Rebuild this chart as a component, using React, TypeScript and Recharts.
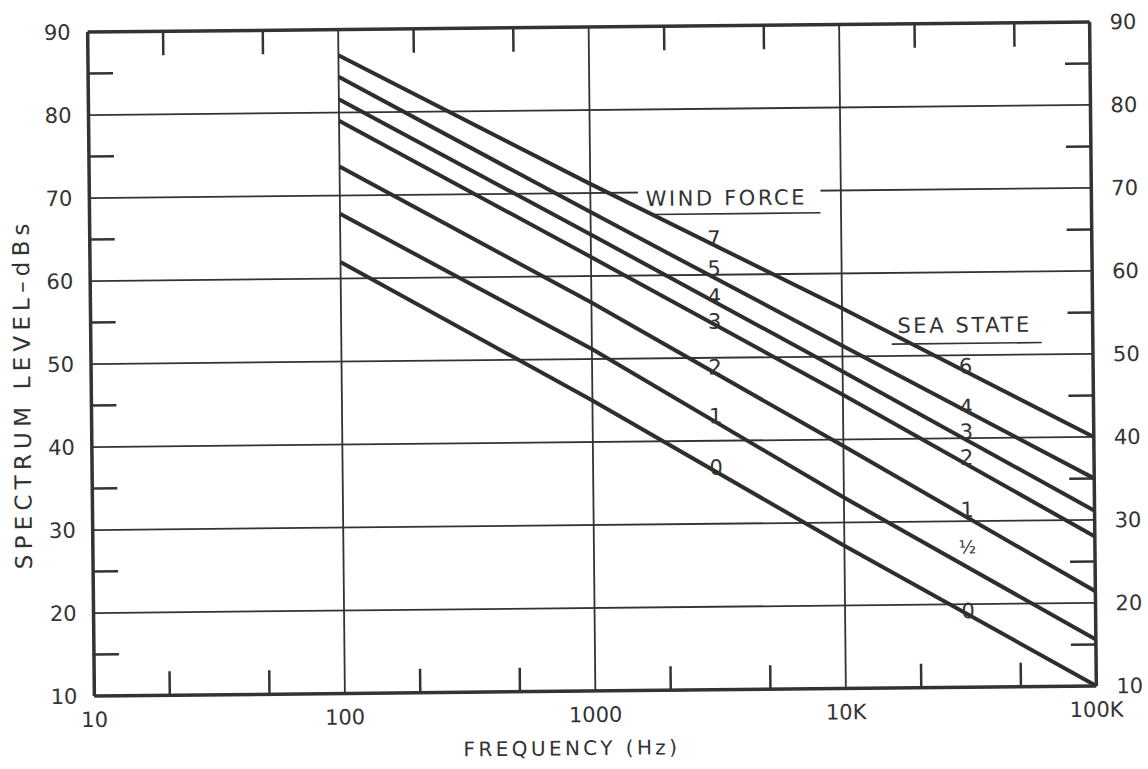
import { CartesianGrid, Line, LineChart, ReferenceArea, ReferenceDot, XAxis, YAxis } from "recharts";

// frequency points (Hz) where the curves were read
const freqs = [100, 1000, 10000, 100000];

// spectrum level (dB) per curve, labelled "wind force / sea state"
const wind7 = [86.9, 71.1, 55.8, 40.0];
const wind5 = [84.3, 67.7, 51.3, 35.0];
const wind4 = [81.6, 65.0, 48.2, 31.1];
const wind3 = [79.0, 62.3, 45.4, 28.0];
const wind2 = [73.5, 56.8, 39.2, 21.4];
const wind1 = [67.8, 51.2, 33.0, 15.6];
const wind0 = [62.0, 45.0, 27.2, 10.0];

const xTicks = [10, 100, 1000, 10000, 100000];
const xMinor = [20, 50, 200, 500, 2000, 5000, 20000, 50000];
const yTicks = [10, 20, 30, 40, 50, 60, 70, 80, 90];
const yMinor = [15, 25, 35, 45, 55, 65, 75, 85];

// curve labels: text and the level they sit at
const windLabels = ["7", "5", "4", "3", "2", "1", "0"];
const windLabelY = [64.4, 60.8, 57.4, 54.4, 48.9, 43.0, 36.8];
const windLabelX = 3100;
const seaLabels = ["6", "4", "3", "2", "1", "½", "0"];
const seaLabelY = [48.7, 43.8, 40.8, 37.7, 31.4, 26.9, 19.2];
const seaLabelX = 31000;

const series = [wind7, wind5, wind4, wind3, wind2, wind1, wind0];
const keys = ["w7", "w5", "w4", "w3", "w2", "w1", "w0"];

const data = freqs.map((f, i) => {
  const row: Record<string, number> = { f };
  series.forEach((s, j) => (row[keys[j]] = s[i]));
  return row;
});

const INK = "#333";
const FONT = "DejaVu Sans, sans-serif";
const fmt = (v: number) => (v >= 10000 ? `${v / 1000}K` : `${v}`);
const blank = () => "";

const tickFont = { fontSize: 21, fill: INK, fontFamily: FONT };
const frame = { stroke: INK, strokeWidth: 3.5 };
const minorLine = { stroke: INK, strokeWidth: 2.5 };

const headLabel = (text: string, left: number, right: number, under: number) => (p: any) => {
  const vb = p.viewBox || { x: 0, y: 0, width: 0, height: 0 };
  const cx = vb.x + (vb.width || 0) / 2;
  const cy = vb.y + (vb.height || 0) / 2;
  return (
    <g>
      <text x={cx} y={cy} textAnchor="middle" dominantBaseline="central" fill={INK}
        fontFamily={FONT} fontSize={21} letterSpacing={2.6}>{text}</text>
      <line x1={cx - left} x2={cx + right} y1={cy + under} y2={cy + under} stroke={INK} strokeWidth={1.6} />
    </g>
  );
};

const yTitle = () => (
  <text x={22} y={388} transform="rotate(-90 22 388)" textAnchor="middle" dominantBaseline="central"
    fill={INK} fontFamily={FONT} fontSize={23} letterSpacing={5.2}>SPECTRUM LEVEL–dBs</text>
);

const xTitle = () => (
  <text x={568} y={755} textAnchor="middle" fill={INK} fontFamily={FONT} fontSize={20} letterSpacing={3.4}>
    FREQUENCY (Hz)
  </text>
);

const App = () => {
  return (
    <div style={{ position: "absolute", left: 0, top: 0, width: 1148, height: 769, background: "#fff",
      transform: "rotate(-0.58deg)", transformOrigin: "592px 359px" }}>
      <LineChart width={1148} height={769} data={data} margin={{ top: 27, right: 0, bottom: 0, left: 0 }}>
        <CartesianGrid stroke={INK} strokeWidth={1.8} />
        <XAxis dataKey="f" type="number" scale="log" domain={[10, 100000]} allowDataOverflow ticks={xTicks}
          tickFormatter={fmt} tick={tickFont} tickLine={false} tickSize={6} tickMargin={10} axisLine={frame}
          height={78} label={{ content: xTitle }} />
        <XAxis xAxisId="top" dataKey="f" orientation="top" mirror type="number" scale="log" domain={[10, 100000]}
          allowDataOverflow ticks={xMinor} tickFormatter={blank} tickLine={minorLine} tickSize={24}
          axisLine={frame} />
        <XAxis xAxisId="bottomMinor" dataKey="f" orientation="bottom" mirror type="number" scale="log"
          domain={[10, 100000]} allowDataOverflow ticks={xMinor} tickFormatter={blank} tickLine={minorLine}
          tickSize={24} axisLine={false} />
        <YAxis type="number" domain={[10, 90]} allowDataOverflow ticks={yTicks} tick={tickFont} tickLine={false}
          tickSize={6} tickMargin={11} axisLine={frame} width={91} label={{ content: yTitle }} />
        <YAxis yAxisId="right" orientation="right" type="number" domain={[10, 90]} allowDataOverflow ticks={yTicks}
          tick={tickFont} tickLine={false} tickSize={6} tickMargin={14} axisLine={frame} width={55} />
        <YAxis yAxisId="leftMinor" mirror type="number" domain={[10, 90]} allowDataOverflow ticks={yMinor}
          tickFormatter={blank} tickLine={minorLine} tickSize={25} axisLine={false} />
        <YAxis yAxisId="rightMinor" orientation="right" mirror type="number" domain={[10, 90]} allowDataOverflow
          ticks={yMinor} tickFormatter={blank} tickLine={minorLine} tickSize={25} axisLine={false} />

        {/* gap in the 70 gridline behind the WIND FORCE heading */}
        <ReferenceArea x1={1550} x2={8300} y1={69} y2={71} fill="#fff" fillOpacity={1} stroke="none" />

        {keys.map((k) => (
          <Line key={k} dataKey={k} type="linear" stroke="#2e2e2e" strokeWidth={4} dot={false}
            activeDot={false} isAnimationActive={false} />
        ))}

        {/* invisible copies so the frame/minor-tick axes have a series bound to them */}
        <Line dataKey="w7" xAxisId="top" yAxisId="right" stroke="none" dot={false} activeDot={false}
          isAnimationActive={false} />
        <Line dataKey="w7" xAxisId="bottomMinor" yAxisId="leftMinor" stroke="none" dot={false} activeDot={false}
          isAnimationActive={false} />
        <Line dataKey="w7" yAxisId="rightMinor" stroke="none" dot={false} activeDot={false}
          isAnimationActive={false} />

        <ReferenceDot x={3490} y={69.2} r={0} fill="none" stroke="none" label={{ content: headLabel("WIND FORCE", 75, 94, 15.5) }} />
        <ReferenceDot x={30800} y={53.6} r={0} fill="none" stroke="none" label={{ content: headLabel("SEA STATE", 73, 77, 18) }} />

        {windLabels.map((t, i) => (
          <ReferenceDot key={"w" + i} x={windLabelX} y={windLabelY[i]} r={0} fill="none" stroke="none"
            label={{ value: t, position: "center", fill: INK, fontSize: 21, fontFamily: FONT }} />
        ))}
        {seaLabels.map((t, i) => (
          <ReferenceDot key={"s" + i} x={seaLabelX} y={seaLabelY[i]} r={0} fill="none" stroke="none"
            label={{ value: t, position: "center", fill: INK, fontSize: t === "½" ? 18 : 21, fontFamily: FONT }} />
        ))}
      </LineChart>
    </div>
  );
};

export default App;
